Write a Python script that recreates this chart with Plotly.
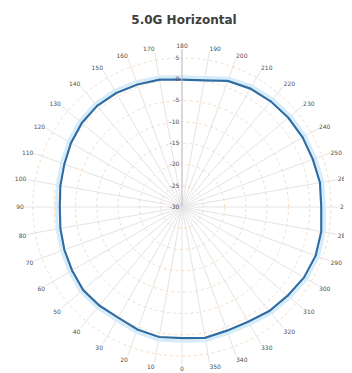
import plotly.graph_objects as go

title_text = "5.0G Horizontal"
angles = [0, 10, 20, 30, 40, 50, 60, 70, 80, 90, 100, 110, 120, 130, 140, 150, 160, 170,
          180, 190, 200, 210, 220, 230, 240, 250, 260, 270, 280, 290, 300, 310, 320, 330, 340, 350, 0]
horizontal_db = [0.8, 1.0, 0.6, 0.0, 0.2, 0.3, -0.2, -0.6, -1.0, -1.3, -1.0, -0.6, 0.1, 0.7, 1.0, 0.9, 0.6, 0.35,
                 -0.1, 0.2, 1.5, 2.1, 2.4, 2.6, 2.7, 2.7, 2.9, 2.7, 3.2, 3.4, 3.1, 2.4, 1.9, 1.1, 0.9, 1.2, 0.8]
halo_db = [1.5, 1.7, 1.3, 0.7, 0.9, 1.0, 0.5, 0.1, -0.3, -0.5, -0.3, 0.1, 0.8, 1.4, 1.7, 1.6, 1.3, 1.0,
           0.6, 0.9, 2.2, 2.8, 3.1, 3.3, 3.4, 3.4, 3.6, 3.4, 3.9, 4.1, 3.8, 3.1, 2.6, 1.8, 1.6, 1.9, 1.5]
radial_ticks = [5, 0, -5, -10, -15, -20, -25, -30]
angle_ticks = list(range(0, 360, 10))

fig = go.Figure()
fig.add_trace(go.Scatterpolar(r=halo_db, theta=angles, mode="lines",
                              line=dict(color="#d6ecfa", width=3), hoverinfo="skip", showlegend=False))
fig.add_trace(go.Scatterpolar(r=horizontal_db, theta=angles, mode="lines",
                              line=dict(color="#2f6ea5", width=2.2), showlegend=False))

fig.update_layout(
    width=352, height=373,
    margin=dict(l=0, r=0, t=0, b=0),
    paper_bgcolor="white",
    title=dict(text="<b>" + title_text + "</b>", x=0.5, xanchor="center", y=0.968, yanchor="middle",
               font=dict(family="DejaVu Sans", size=12, color="#404040")),
    polar=dict(
        domain=dict(x=[0.0466, 0.942], y=[0.044, 0.889]),
        bgcolor="white",
        angularaxis=dict(rotation=270, direction="clockwise", tickmode="array",
                         tickvals=angle_ticks, ticktext=[str(a) for a in angle_ticks],
                         ticks="", showline=False,
                         gridcolor="#e4e4e4", griddash="solid", gridwidth=0.8,
                         tickfont=dict(family="DejaVu Sans", size=6, color="#505050")),
        radialaxis=dict(range=[-30, 7], tickmode="array", tickvals=radial_ticks,
                        ticktext=[str(v) for v in radial_ticks], angle=90, tickangle=90,
                        side="counterclockwise", ticks="", showline=True, linecolor="#c0c0c0",
                        gridcolor="#f5dcc4", griddash="dot", gridwidth=1,
                        tickfont=dict(family="DejaVu Sans", size=6, color="#505050")),
    ),
)

fig.write_html("out.html")
